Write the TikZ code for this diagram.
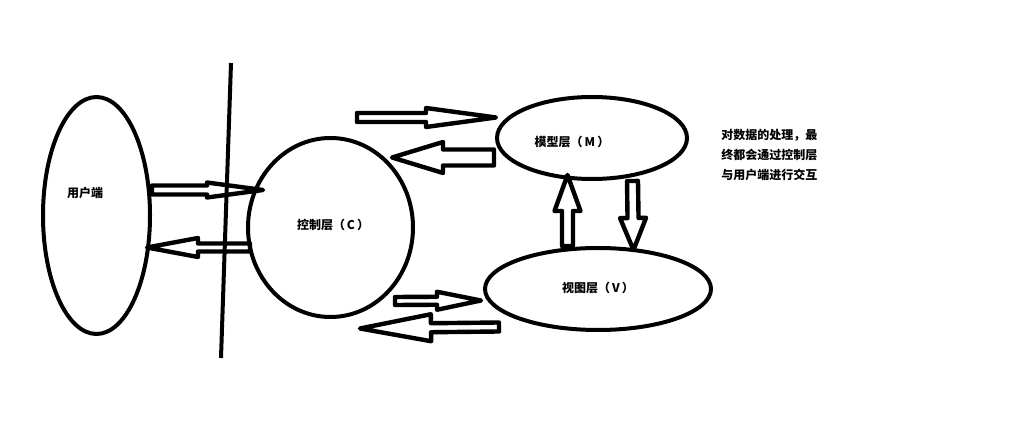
\documentclass[tikz,border=0pt]{standalone}
\usepackage{fontspec}
\usepackage{tikz}
\usetikzlibrary{calc, shapes.geometric}
\newfontfamily\cjk{Noto Sans CJK SC}
\tikzset{every node/.append style={font=\cjk\bfseries\fontsize{9pt}{15pt}\selectfont}}
\tikzset{blockarr/.style={draw, line width=3.3pt, line join=round}}
\tikzset{oval/.style={draw, ellipse, line width=3pt, inner sep=0pt}}

% start, tip, shaft half width, head half width, head length (in px)
\newcommand{\hollowarrow}[5]{%
  \coordinate (hb) at ($(#2)!{#5*0.75pt}!(#1)$);
  \draw[blockarr] ($(#1)!{#3*0.75pt}!90:(#2)$) -- ($(hb)!{#3*0.75pt}!-90:(#1)$)
    -- ($(hb)!{#4*0.75pt}!-90:(#1)$) -- (#2) -- ($(hb)!{#4*0.75pt}!90:(#1)$)
    -- ($(hb)!{#3*0.75pt}!90:(#1)$) -- ($(#1)!{#3*0.75pt}!-90:(#2)$) -- cycle;
}

\begin{document}
\begin{tikzpicture}[x=0.75pt, y=-0.75pt]
    \fill[white] (0,0) rectangle (1035,423);
    \node[oval, minimum width=80.25pt, minimum height=177.75pt] (user) at (96.5,215.5) {};
    \node[oval, minimum width=123.75pt, minimum height=134.25pt] (ctrl) at (330.5,227.5) {};
    \node[oval, minimum width=142.5pt, minimum height=61.5pt] (model) at (592,138) {};
    \node[oval, minimum width=169.5pt, minimum height=61.5pt] (view) at (598,289) {};
    \node (userlbl) at (85,193) {用户端};
    \node (ctrllbl) at (333,225) {控制层（\,C\,）};
    \node (modellbl) at (572,142) {模型层（\,M\,）};
    \node (viewlbl) at (598,288) {视图层（\,V\,）};
    \node[anchor=north west, align=left, inner sep=0pt] (note) at (721,129)
        {对数据的处理，最\\终都会通过控制层\\与用户端进行交互};
    \coordinate (sepT) at (231,63);
    \coordinate (sepB) at (221,358);
    \draw[line width=3pt] (sepT) -- (sepB);
    \coordinate (uc1) at (152,190);
    \coordinate (uc2) at (263,190);
    \coordinate (cu1) at (250,247.5);
    \coordinate (cu2) at (147,247.5);
    \coordinate (cm1) at (357,117.5);
    \coordinate (cm2) at (496,117.5);
    \coordinate (mc1) at (494,157.5);
    \coordinate (mc2) at (392,157.5);
    \coordinate (vm1) at (567.5,246);
    \coordinate (vm2) at (567.5,175);
    \coordinate (mv1) at (632.5,181);
    \coordinate (mv2) at (633.5,250);
    \coordinate (cv1) at (395,301);
    \coordinate (cv2) at (481,300.5);
    \coordinate (vc1) at (499,327);
    \coordinate (vc2) at (360,328.5);
    \hollowarrow{uc1}{uc2}{4.5}{7.5}{56}
    \hollowarrow{cu1}{cu2}{4}{9.5}{51}
    \hollowarrow{cm1}{cm2}{4.5}{9.5}{70}
    \hollowarrow{mc1}{mc2}{8}{15.5}{51}
    \hollowarrow{vm1}{vm2}{5.5}{13}{36}
    \hollowarrow{mv1}{mv2}{5.5}{13}{32}
    \hollowarrow{cv1}{cv2}{4}{9}{44}
    \hollowarrow{vc1}{vc2}{4.5}{13.5}{71}
\end{tikzpicture}
\end{document}
